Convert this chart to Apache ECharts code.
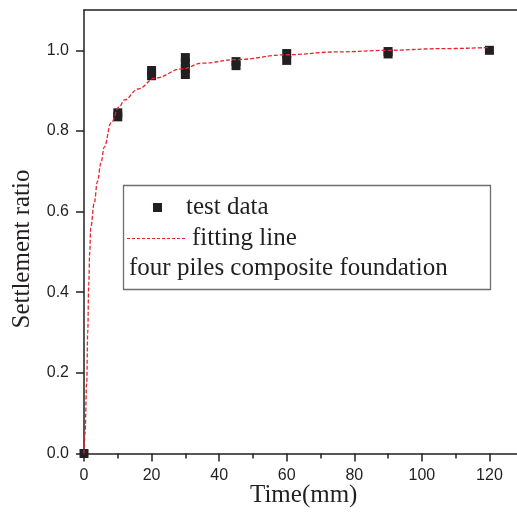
<!DOCTYPE html>
<html><head><meta charset="utf-8">
<script src="https://cdn.jsdelivr.net/npm/echarts@6/dist/echarts.min.js"></script>
<style>html,body{margin:0;padding:0;background:#fff}#c{width:517px;height:516px}</style>
</head><body><div id="c"></div>
<script>
// test data
const testTime = [0, 10, 10, 20, 20, 30, 30, 30, 30, 45, 45, 60, 60, 90, 90, 120];
const testRatio = [0, 0.835, 0.845, 0.95, 0.937, 0.982, 0.968, 0.955, 0.94, 0.972, 0.962, 0.992, 0.975, 0.997, 0.991, 1.0];
// fitting line
const fitTime = [0, 0.3, 0.8, 1.1, 1.4, 1.7, 2.0, 3.0, 4.0, 5.0, 6.0, 8.0, 10.4, 12, 16, 21, 29, 35, 45, 60, 75, 90, 105, 120];
const fitRatio = [0, 0.05, 0.175, 0.3, 0.42, 0.5, 0.56, 0.62, 0.675, 0.72, 0.76, 0.82, 0.86, 0.877, 0.904, 0.931, 0.954, 0.968, 0.977, 0.989, 0.996, 1.0, 1.004, 1.007];
const yMajorTicks = [0, 0.2, 0.4, 0.6, 0.8, 1.0];
const yMinorTicks = [0.1, 0.3, 0.5, 0.7, 0.9];
const xTitle = 'Time(mm)';
const yTitle = 'Settlement ratio';
const legendLabels = ['test data', 'fitting line', 'four piles composite foundation'];

const ink = '#231f20';
const sans = 'Liberation Sans, Arial, sans-serif';
const serif = 'Liberation Serif, Times New Roman, serif';
const gridLeft = 84, gridRight = -40, gridTop = 10, gridBottom = 62.5;
const gridWidth = 517 - gridLeft - gridRight;

const chart = echarts.init(document.getElementById('c'), null, {renderer: 'canvas'});
chart.setOption({
  animation: false,
  backgroundColor: '#fff',
  grid: {left: gridLeft, right: gridRight, top: gridTop, bottom: gridBottom, containLabel: false, outerBoundsMode: 'none'},
  xAxis: [{
    type: 'value', position: 'bottom', min: 0, max: 140, interval: 20,
    axisLine: {show: true, onZero: false, lineStyle: {color: ink, width: 1.5}},
    axisTick: {show: true, inside: false, length: 8, lineStyle: {color: ink, width: 1.5}},
    minorTick: {show: true, splitNumber: 2, length: 5, lineStyle: {color: ink, width: 1.5}},
    axisLabel: {color: ink, fontFamily: sans, fontSize: 16, margin: 14},
    splitLine: {show: false}
  }, {
    type: 'value', position: 'top', min: 0, max: 140,
    axisLine: {show: true, onZero: false, lineStyle: {color: ink, width: 1.5}},
    axisTick: {show: false}, axisLabel: {show: false}, splitLine: {show: false}
  }],
  yAxis: [{
    type: 'value', position: 'left', min: 0, max: 1.1, interval: 0.1,
    axisLine: {show: true, onZero: false, lineStyle: {color: ink, width: 1.5}},
    axisTick: {show: true, inside: false, length: 8, customValues: yMajorTicks, lineStyle: {color: ink, width: 1.5}},
    axisLabel: {color: ink, fontFamily: sans, fontSize: 16, margin: 15, customValues: yMajorTicks,
      formatter: v => v.toFixed(1)},
    splitLine: {show: false}
  }, {
    type: 'value', position: 'right', offset: -gridWidth, min: 0, max: 1.1, interval: 0.1,
    axisLine: {show: false},
    axisTick: {show: true, inside: true, length: 5, customValues: yMinorTicks, lineStyle: {color: ink, width: 1.5}},
    axisLabel: {show: false}, splitLine: {show: false}
  }],
  series: [{
    name: 'test data', type: 'scatter', xAxisIndex: 0, yAxisIndex: 0,
    symbol: 'rect', symbolSize: 9, z: 3,
    itemStyle: {color: ink, opacity: 1},
    data: testTime.map((t, i) => [t, testRatio[i]])
  }, {
    name: 'fitting line', type: 'line', xAxisIndex: 0, yAxisIndex: 0,
    showSymbol: false, symbol: 'none', smooth: 0.4, smoothMonotone: 'x', z: 4,
    lineStyle: {color: '#e8232b', width: 1.3, type: [4, 2]},
    data: fitTime.map((t, i) => [t, fitRatio[i]])
  }],
  graphic: [
    {type: 'text', left: 305 - 55, top: 483, style: {text: xTitle, fill: ink, font: '25px ' + serif}},
    {type: 'text', x: 22, y: 249, rotation: Math.PI / 2,
      style: {text: yTitle, fill: ink, font: '25px ' + serif, align: 'center', verticalAlign: 'middle'}},
    {type: 'rect', shape: {x: 123.5, y: 185.5, width: 367, height: 104},
      style: {fill: '#fff', stroke: '#6d6e70', lineWidth: 1.3}, z: 10},
    {type: 'rect', shape: {x: 153, y: 203, width: 9, height: 9}, style: {fill: ink}, z: 11},
    {type: 'text', x: 186, y: 207, style: {text: legendLabels[0], fill: ink, font: '25px ' + serif, verticalAlign: 'middle'}, z: 11},
    {type: 'line', shape: {x1: 127, y1: 238.5, x2: 186, y2: 238.5},
      style: {stroke: '#e8232b', lineWidth: 1, lineDash: [3, 2]}, z: 11},
    {type: 'text', x: 192, y: 238, style: {text: legendLabels[1], fill: ink, font: '25px ' + serif, verticalAlign: 'middle'}, z: 11},
    {type: 'text', x: 129, y: 268, style: {text: legendLabels[2], fill: ink, font: '25px ' + serif, verticalAlign: 'middle'}, z: 11}
  ]
});
</script></body></html>
